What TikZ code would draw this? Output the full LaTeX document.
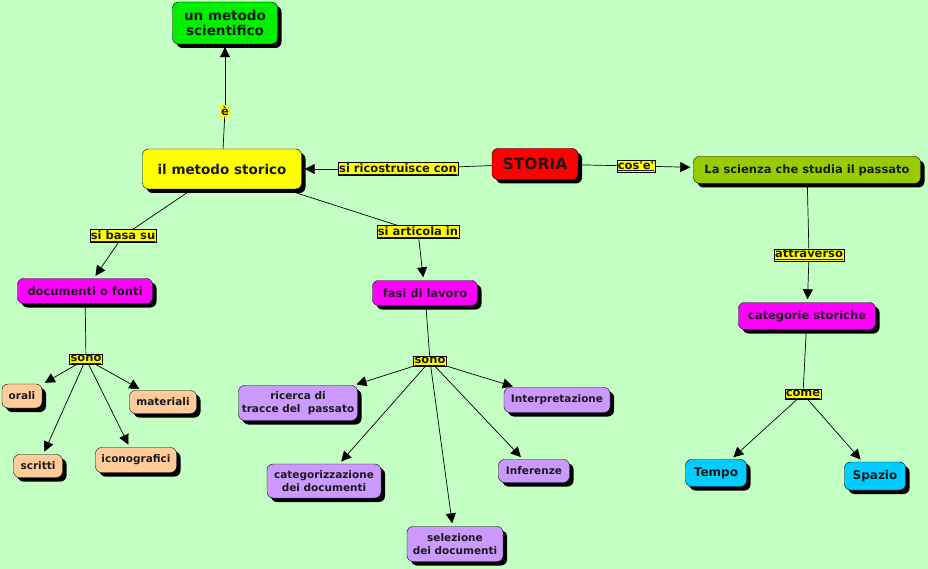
\documentclass[tikz,border=0pt]{standalone}
\usepackage{fontspec}
\setmainfont{DejaVu Sans}[Ligatures=TeXOff]
\usetikzlibrary{arrows.meta,shadows}
\definecolor{sfondo}{HTML}{C4FFC4}
\definecolor{verde}{HTML}{00F000}
\definecolor{giallo}{HTML}{FFFF00}
\definecolor{rosso}{HTML}{FF0000}
\definecolor{oliva}{HTML}{99CC00}
\definecolor{magenta}{HTML}{FF00FF}
\definecolor{ciano}{HTML}{00CCFF}
\definecolor{pesca}{HTML}{FFCC99}
\definecolor{lilla}{HTML}{CC99FF}
\definecolor{testo}{HTML}{1A1A1A}
\tikzset{
	concetto/.style={draw=black, rounded corners=6pt, align=center, inner sep=2pt, text=testo,
		font=\bfseries\fontsize{10.5}{12.5}\selectfont,
		drop shadow={shadow xshift=4pt, shadow yshift=-4pt, fill=black, opacity=1}},
	legame/.style={draw=black, fill=giallo, inner sep=1pt, text=testo,
		font=\bfseries\fontsize{11.5}{13}\selectfont},
	freccia/.style={-{Triangle[length=10pt,width=10pt]}, shorten >=3pt},
	linea/.style={draw=black, line width=0.7pt},
}
\begin{document}
\begin{tikzpicture}[x=1pt,y=-1pt]
			\fill[sfondo] (0,0) rectangle (928,569);
			\useasboundingbox (0,0) rectangle (928,569);
			% concetti
			\node[concetto, fill=verde, minimum width=105pt, minimum height=42pt, font=\bfseries\fontsize{13.5}{15}\selectfont] (scientifico) at (225,23) {un metodo\\ scientifico};
			\node[concetto, fill=giallo, minimum width=159pt, minimum height=40pt, font=\bfseries\fontsize{13.5}{15}\selectfont] (storico) at (222,169) {il metodo storico};
			\node[concetto, fill=rosso, minimum width=86pt, minimum height=31pt, font=\bfseries\fontsize{15.5}{17}\selectfont] (storia) at (535,164) {STORIA};
			\node[concetto, fill=oliva, minimum width=227pt, minimum height=27pt, font=\bfseries\fontsize{11.5}{13}\selectfont] (scienza) at (807,170) {La scienza che studia il passato};
			\node[concetto, fill=magenta, minimum width=137pt, minimum height=27pt, font=\bfseries\fontsize{11.5}{13}\selectfont] (categorie) at (807,316) {categorie storiche};
			\node[concetto, fill=ciano, minimum width=61pt, minimum height=27pt, font=\bfseries\fontsize{12}{14}\selectfont] (tempo) at (716,473) {Tempo};
			\node[concetto, fill=ciano, minimum width=61pt, minimum height=28pt, font=\bfseries\fontsize{12}{14}\selectfont] (spazio) at (875,476) {Spazio};
			\node[concetto, fill=magenta, minimum width=135pt, minimum height=25pt, font=\bfseries\fontsize{11.5}{13}\selectfont] (documenti) at (85,291) {documenti o fonti};
			\node[concetto, fill=pesca, minimum width=40pt, minimum height=24pt] (orali) at (22,396) {orali};
			\node[concetto, fill=pesca, minimum width=67pt, minimum height=23pt] (materiali) at (163,402) {materiali};
			\node[concetto, fill=pesca, minimum width=49pt, minimum height=23pt] (scritti) at (38,466) {scritti};
			\node[concetto, fill=pesca, minimum width=81pt, minimum height=25pt] (iconografici) at (136,460) {iconografici};
			\node[concetto, fill=magenta, minimum width=105pt, minimum height=25pt, font=\bfseries\fontsize{11.5}{13}\selectfont] (fasi) at (425,293) {fasi di lavoro};
			\node[concetto, fill=lilla, minimum width=119pt, minimum height=35pt] (ricerca) at (298,403) {ricerca di\\tracce del~ passato};
			\node[concetto, fill=lilla, minimum width=106pt, minimum height=25pt] (interpretazione) at (557,400) {Interpretazione};
			\node[concetto, fill=lilla, minimum width=114pt, minimum height=34pt] (categorizzazione) at (324,481) {categorizzazione\\ dei documenti};
			\node[concetto, fill=lilla, minimum width=71pt, minimum height=23pt] (inferenze) at (534,471) {Inferenze};
			\node[concetto, fill=lilla, minimum width=96pt, minimum height=35pt] (selezione) at (455,544) {selezione\\ dei documenti};
			% legami
			\node[legame, draw=none] (e) at (225,111) {è};
			\node[legame] (ricostruisce) at (398,169) {\underline{si ricostruisce con}};
			\node[legame] (cose) at (636,166) {\underline{cos'e'}};
			\node[legame] (attraverso) at (809,255) {\underline{attraverso}};
			\node[legame] (basa) at (123,236) {\underline{si basa su}};
			\node[legame] (articola) at (418,232) {\underline{si articola in}};
			\node[legame] (sonoA) at (86,359) {\underline{sono}};
			\node[legame] (sonoB) at (430,361) {\underline{sono}};
			\node[legame] (come) at (803,394) {\underline{come}};
			% connessioni
			\draw[linea] (storico) -- (e);
			\draw[linea, freccia] (e) -- (scientifico);
			\draw[linea] (storia) -- (ricostruisce);
			\draw[linea, freccia] (ricostruisce) -- (storico);
			\draw[linea] (storia) -- (cose);
			\draw[linea, freccia] (cose) -- (scienza);
			\draw[linea] (scienza) -- (attraverso);
			\draw[linea, freccia] (attraverso) -- (categorie);
			\draw[linea] (categorie) -- (come);
			\foreach \n in {tempo,spazio} {
					\draw[linea, freccia] (come) -- (\n);
				}
			\draw[linea] (storico) -- (basa);
			\draw[linea, freccia] (basa) -- (documenti);
			\draw[linea] (storico) -- (articola);
			\draw[linea, freccia] (articola) -- (fasi);
			\draw[linea] (documenti) -- (sonoA);
			\foreach \n in {orali,materiali,scritti,iconografici} {
					\draw[linea, freccia] (sonoA) -- (\n);
				}
			\draw[linea] (fasi) -- (sonoB);
			\foreach \n in {ricerca,interpretazione,categorizzazione,inferenze,selezione} {
					\draw[linea, freccia] (sonoB) -- (\n);
				}
		\end{tikzpicture}
\end{document}
